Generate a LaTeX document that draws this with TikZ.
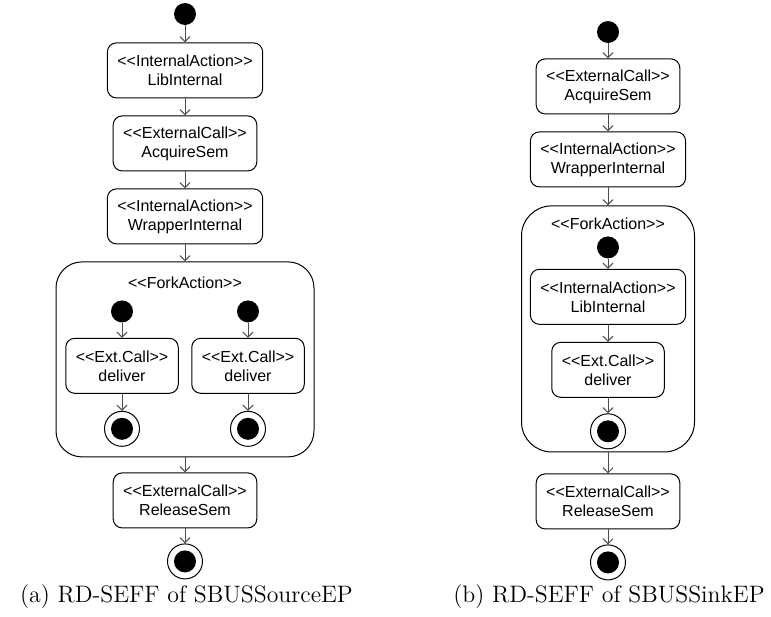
\documentclass[tikz,border=0pt]{standalone}
\usepackage{fontspec}
\usepackage{tikz}
\usetikzlibrary{positioning,arrows.meta}
\newfontfamily\umlfont{Liberation Sans}
\newcommand{\stereo}[1]{<{}<#1>{}>}
\tikzset{umltext/.style={font=\umlfont\fontsize{8}{9.5}\selectfont}}
\tikzset{actbox/.style={shape=rectangle, draw, umltext, rounded corners=4.5pt, line width=0.5pt, align=center, minimum height=27.5pt, inner xsep=5pt, inner ysep=0pt}}
\tikzset{forkbox/.style={shape=rectangle, draw, line width=0.5pt, rounded corners=13pt}}
\tikzset{startnode/.style={shape=circle, fill=black, minimum size=11pt, inner sep=0pt}}
\tikzset{endnode/.style={shape=circle, draw, line width=0.5pt, minimum size=17.5pt, inner sep=0pt, path picture={\fill (path picture bounding box.center) circle (5.5pt);}}}
\tikzset{flow/.style={draw=black!70, line width=0.5pt, -{Straight Barb[length=2.5pt,width=5pt]}}}
\tikzset{subcap/.style={font=\fontsize{11.9}{14}\selectfont, inner sep=0pt}}

\begin{document}
\begin{tikzpicture}[x=1pt, y=1pt, node distance=8.5pt]
\useasboundingbox (0,0) rectangle (385.5,-308);
% (a) source side
\node[startnode] (aStart) at (92.5,-7) {};
\node[actbox, below=of aStart] (aLib) {\stereo{InternalAction}\\LibInternal};
\node[actbox, below=of aLib] (aAcq) {\stereo{ExternalCall}\\AcquireSem};
\node[actbox, below=of aAcq] (aWrap) {\stereo{InternalAction}\\WrapperInternal};
\node[forkbox, minimum width=129pt, minimum height=97.5pt, below=of aWrap] (aFork) {};
\node[umltext, inner sep=0pt] (aForkLbl) at ([yshift=-10.5pt]aFork.north) {\stereo{ForkAction}};
\node[startnode] (aStartL) at ([xshift=-31.5pt,yshift=-25pt]aFork.north) {};
\node[startnode] (aStartR) at ([xshift=31.5pt,yshift=-25pt]aFork.north) {};
\node[actbox, below=7.5pt of aStartL] (aDelL) {\stereo{Ext.Call}\\deliver};
\node[actbox, below=7.5pt of aStartR] (aDelR) {\stereo{Ext.Call}\\deliver};
\node[endnode, below=of aDelL] (aEndL) {};
\node[endnode, below=of aDelR] (aEndR) {};
\node[actbox, below=7.5pt of aFork] (aRel) {\stereo{ExternalCall}\\ReleaseSem};
\node[endnode, below=7.5pt of aRel] (aEnd) {};
\draw[flow] (aStart) -- (aLib);
\draw[flow] (aLib) -- (aAcq);
\draw[flow] (aAcq) -- (aWrap);
\draw[flow] (aWrap) -- (aFork);
\draw[flow] (aStartL) -- (aDelL);
\draw[flow] (aStartR) -- (aDelR);
\draw[flow] (aDelL) -- (aEndL);
\draw[flow] (aDelR) -- (aEndR);
\draw[flow] (aFork) -- (aRel);
\draw[flow] (aRel) -- (aEnd);
\node[subcap] (aCap) at (93.25,-298.5) {(a) RD-SEFF of SBUSSourceEP};
% (b) sink side
\node[startnode] (bStart) at (304,-16) {};
\node[actbox, below=7.5pt of bStart] (bAcq) {\stereo{ExternalCall}\\AcquireSem};
\node[actbox, below=of bAcq] (bWrap) {\stereo{InternalAction}\\WrapperInternal};
\node[forkbox, rounded corners=15pt, minimum width=86.5pt, minimum height=123pt, below=9pt of bWrap] (bFork) {};
\node[umltext, inner sep=0pt] (bForkLbl) at ([yshift=-9pt]bFork.north) {\stereo{ForkAction}};
\node[startnode] (bStartIn) at ([yshift=-21pt]bFork.north) {};
\node[actbox, below=5pt of bStartIn] (bLib) {\stereo{InternalAction}\\LibInternal};
\node[actbox, below=of bLib] (bDel) {\stereo{Ext.Call}\\deliver};
\node[endnode, below=7.75pt of bDel] (bEndIn) {};
\node[actbox, below=10.5pt of bFork] (bRel) {\stereo{ExternalCall}\\ReleaseSem};
\node[endnode, below=7.5pt of bRel] (bEnd) {};
\draw[flow] (bStart) -- (bAcq);
\draw[flow] (bAcq) -- (bWrap);
\draw[flow] (bWrap) -- (bFork);
\draw[flow] (bStartIn) -- (bLib);
\draw[flow] (bLib) -- (bDel);
\draw[flow] (bDel) -- (bEndIn);
\draw[flow] (bFork) -- (bRel);
\draw[flow] (bRel) -- (bEnd);
\node[subcap] (bCap) at (304.5,-298.5) {(b) RD-SEFF of SBUSSinkEP};
\end{tikzpicture}
\end{document}
